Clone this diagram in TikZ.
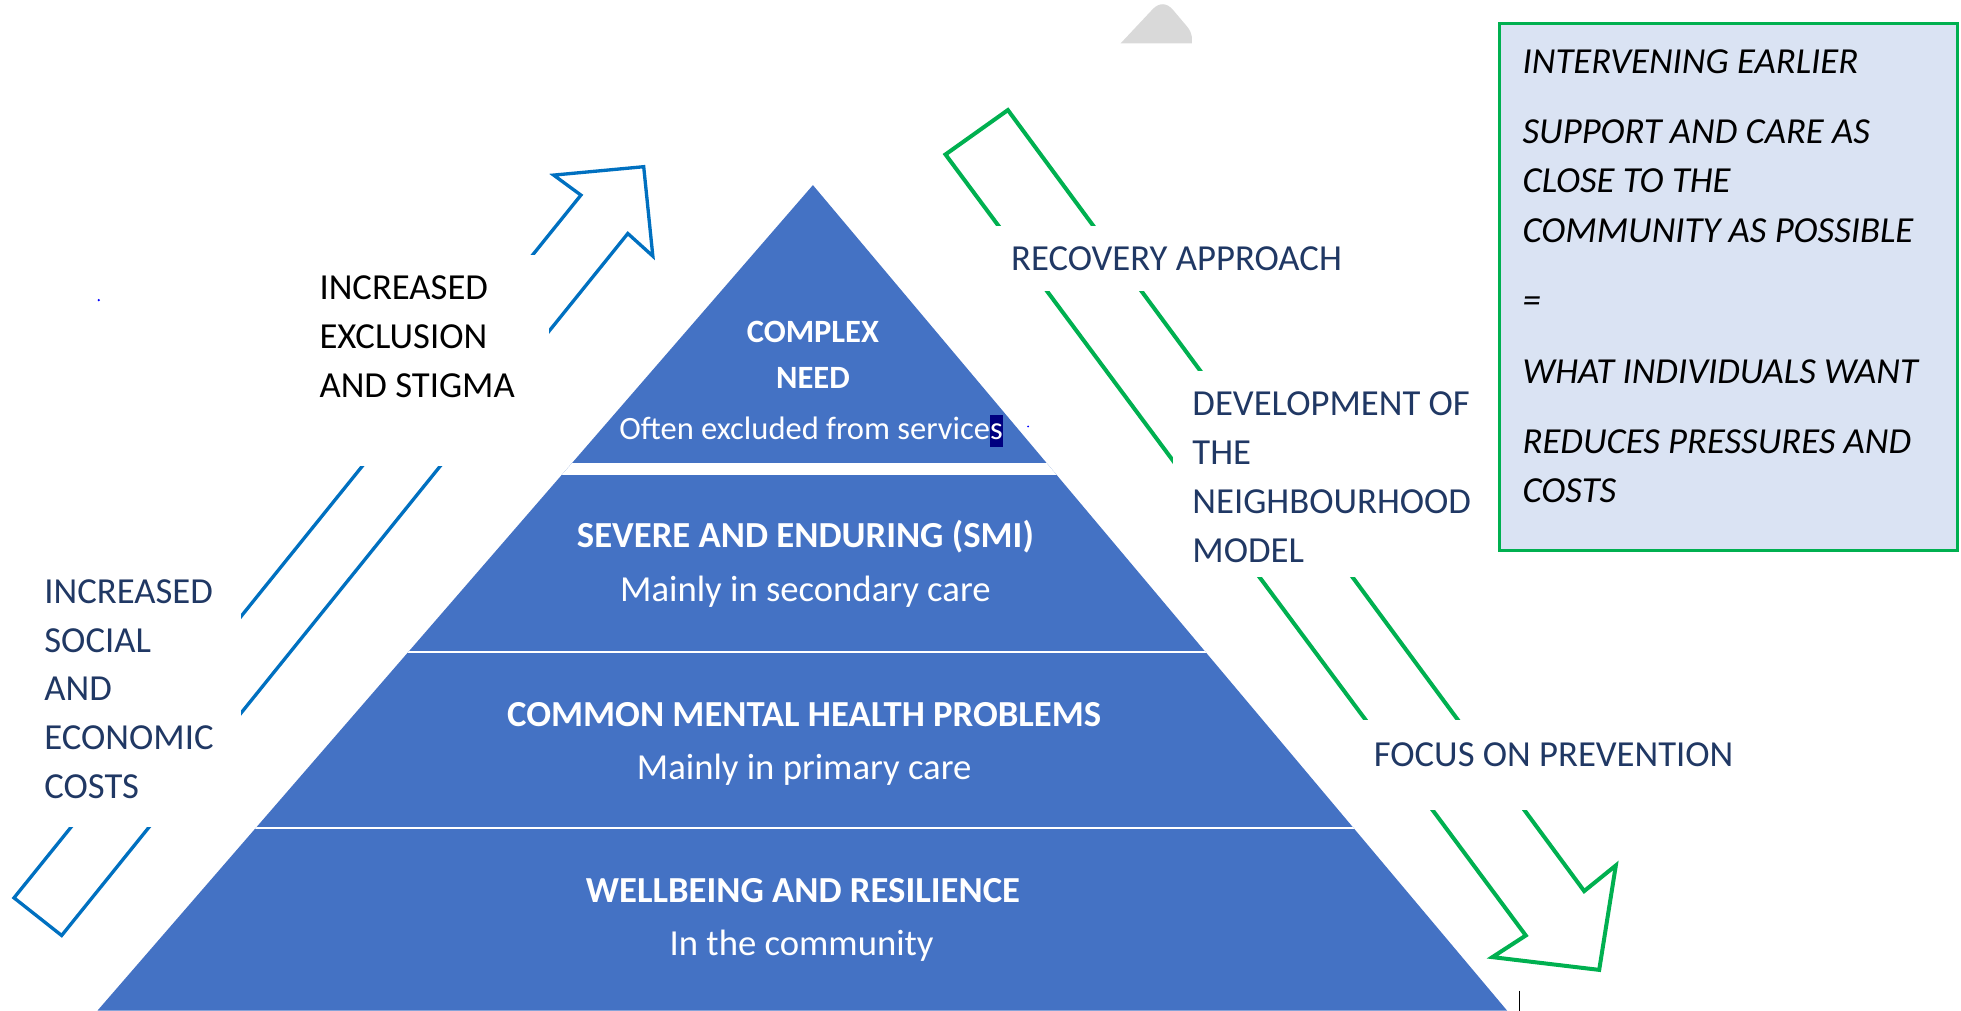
\documentclass[tikz,border=0pt]{standalone}
\usepackage{fontspec}
\setmainfont{Carlito}

\definecolor{pyrblue}{RGB}{68,114,196}
\definecolor{arrowblue}{RGB}{0,112,192}
\definecolor{arrowgreen}{RGB}{0,176,80}
\definecolor{boxfill}{RGB}{218,227,243}
\definecolor{navytxt}{RGB}{32,56,100}
\definecolor{selnavy}{RGB}{0,0,128}
\definecolor{shadegray}{RGB}{217,217,217}

\newcommand\hlsel[1]{{\setlength\fboxsep{0pt}\colorbox{selnavy}{\rule[-0.23em]{0pt}{1em}#1}}}

\tikzset{every picture/.style={line width=0.75pt}}
\tikzset{
  lbl/.style={anchor=base west, inner sep=0pt, text=navytxt, font=\fontsize{22}{26}\selectfont},
  blacklbl/.style={lbl, text=black},
  boxtxt/.style={lbl, text=black, font=\fontsize{22}{26}\selectfont\itshape},
  tierbold/.style={anchor=base, inner sep=0pt, text=white, font=\fontsize{22}{26}\selectfont\bfseries},
  tiertxt/.style={anchor=base, inner sep=0pt, text=white, font=\fontsize{22}{26}\selectfont},
  topbold/.style={tierbold, font=\fontsize{19.5}{23}\selectfont\bfseries},
  toptxt/.style={tiertxt, font=\fontsize{19.5}{23}\selectfont},
  mask/.style={fill=white, draw=none},
}

\begin{document}
\begin{tikzpicture}[x=0.75pt,y=0.75pt,yscale=-1,xscale=1]
\useasboundingbox (0,0) rectangle (1568,808);

%Shape: grey corner at the top
\fill[shadegray] (896,34.7) -- (922,7) .. controls (927,2) and (933,2) .. (938,8) -- (949,21) .. controls (954,27) and (953,31) .. (953,34.7) -- cycle;

%Block Arrow: up, blue
\coordinate (ba1) at (11.2,717.9);
\coordinate (ba2) at (464.5,156);
\coordinate (ba3) at (442.7,140);
\coordinate (ba4) at (514.7,133.3);
\coordinate (ba5) at (522,204.8);
\coordinate (ba6) at (502,186.7);
\coordinate (ba7) at (49.3,748);
\draw[arrowblue, line width=2pt] (ba1) -- (ba2) -- (ba3) -- (ba4) -- (ba5) -- (ba6) -- (ba7) -- cycle;

%Block Arrow: down, green
\coordinate (ga1) at (756,123.5);
\coordinate (ga2) at (805.9,88);
\coordinate (ga3) at (1266.7,712.5);
\coordinate (ga4) at (1292,692);
\coordinate (ga5) at (1278.7,775.5);
\coordinate (ga6) at (1193.3,765.3);
\coordinate (ga7) at (1220,748);
\draw[arrowgreen, line width=2.4pt] (ga1) -- (ga2) -- (ga3) -- (ga4) -- (ga5) -- (ga6) -- (ga7) -- cycle;

%Text boxes over the arrows
\path[mask] (240,204) rectangle (439,373);
\path[mask] (20,450) rectangle (193,661);
\path[mask] (790,181) rectangle (1085,233);
\path[mask] (938,297) rectangle (1190,461);
\path[mask] (1085,576) rectangle (1395,648);

%Shape: Triangle (pyramid)
\coordinate (apex) at (650,148);
\coordinate (bl) at (78,808);
\coordinate (br) at (1205,808);
\begin{scope}
\clip (apex) -- (bl) -- (br) -- cycle;
\fill[pyrblue] (0,140) rectangle (1300,810);
\fill[white] (0,370) rectangle (1300,380);
\draw[white, line width=1pt] (0,521.5) -- (1300,521.5);
\draw[white, line width=1pt] (0,662) -- (1300,662);
\end{scope}

%Shape: Rectangle (green frame)
\draw[arrowgreen, line width=2pt, fill=boxfill] (1199,19) rectangle (1565,440);

%stray marks
\fill[blue] (79,240) circle (1);
\fill[blue] (822,341) circle (0.8);
\draw[black, line width=0.8pt] (1215,792) -- (1215,808);

% Text Node
\node[topbold] (complex) at (650,273.5) {COMPLEX};
\node[topbold] (need) at (650,310.5) {NEED};
\node[toptxt] (often) at (648.5,351.5) {Often excluded from service\hlsel{s}};
% Text Node
\node[tierbold] (smi) at (644,437.5) {SEVERE AND ENDURING (SMI)};
\node[tiertxt] (secondary) at (644,481) {Mainly in secondary care};
% Text Node
\node[tierbold] (common) at (643,580.5) {COMMON MENTAL HEALTH PROBLEMS};
\node[tiertxt] (primary) at (643,623) {Mainly in primary care};
% Text Node
\node[tierbold] (wellbeing) at (642,721.5) {WELLBEING AND RESILIENCE};
\node[tiertxt] (community) at (641,764) {In the community};

% Text Node
\node[blacklbl] (excl1) at (255,239.5) {INCREASED};
\node[blacklbl] (excl2) at (255,278.5) {EXCLUSION};
\node[blacklbl] (excl3) at (255,317.5) {AND STIGMA};
% Text Node
\node[lbl] (cost1) at (35,482.5) {INCREASED};
\node[lbl] (cost2) at (35,521.5) {SOCIAL};
\node[lbl] (cost3) at (35,560.5) {AND};
\node[lbl] (cost4) at (35,599.5) {ECONOMIC};
\node[lbl] (cost5) at (35,638.5) {COSTS};
% Text Node
\node[lbl] (recovery) at (808,216.5) {RECOVERY APPROACH};
% Text Node
\node[lbl] (dev1) at (953,332.5) {DEVELOPMENT OF};
\node[lbl] (dev2) at (953,371.5) {THE};
\node[lbl] (dev3) at (953,410.5) {NEIGHBOURHOOD};
\node[lbl] (dev4) at (953,449.5) {MODEL};
% Text Node
\node[lbl] (prevention) at (1098,612.5) {FOCUS ON PREVENTION};

% Text Node
\node[boxtxt] (earlier) at (1217,58.5) {INTERVENING EARLIER};
\node[boxtxt] (support1) at (1217,114.5) {SUPPORT AND CARE AS};
\node[boxtxt] (support2) at (1217,154) {CLOSE TO THE};
\node[boxtxt] (support3) at (1217,193.5) {COMMUNITY AS POSSIBLE};
\node[boxtxt] (equals) at (1217,250) {=};
\node[boxtxt] (want) at (1217,306.5) {WHAT INDIVIDUALS WANT};
\node[boxtxt] (reduces1) at (1217,362.5) {REDUCES PRESSURES AND};
\node[boxtxt] (reduces2) at (1217,401.5) {COSTS};

\end{tikzpicture}
\end{document}
